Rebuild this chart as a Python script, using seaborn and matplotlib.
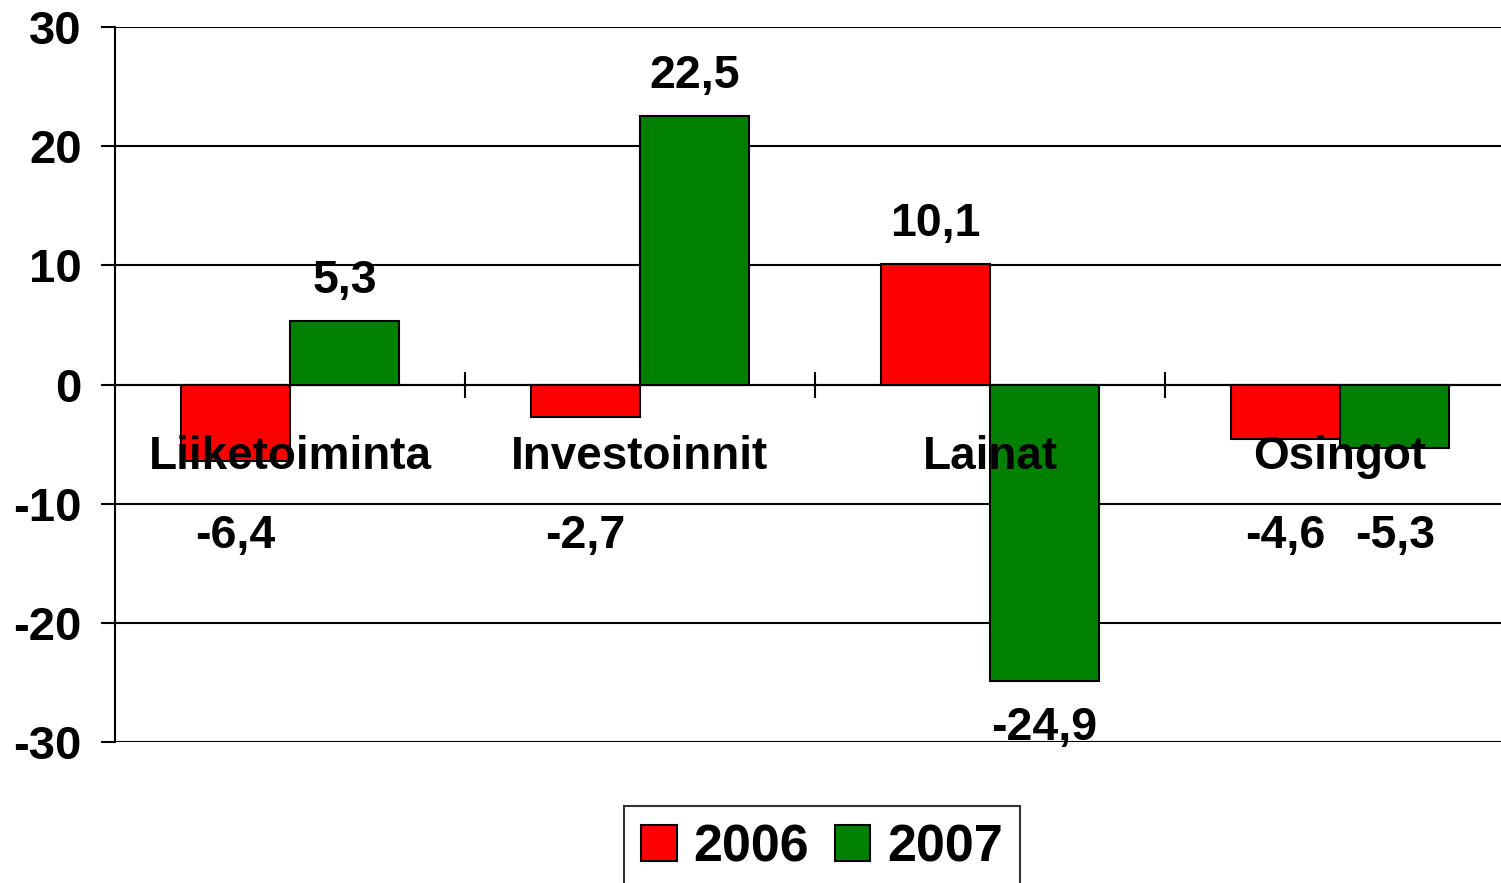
import pandas as pd
import matplotlib.pyplot as plt
import seaborn as sns

# Data
categories = ["Liiketoiminta", "Investoinnit", "Lainat", "Osingot"]
years = ["2006", "2007"]
values_2006 = [-6.4, -2.7, 10.1, -4.6]
values_2007 = [5.3, 22.5, -24.9, -5.3]
y_ticks = [-30, -20, -10, 0, 10, 20, 30]

df = pd.DataFrame({
    "kategoria": categories * 2,
    "vuosi": [years[0]] * 4 + [years[1]] * 4,
    "arvo": values_2006 + values_2007,
})

sns.set_style("white")
plt.rcParams["font.family"] = ["Liberation Sans", "DejaVu Sans"]
plt.rcParams["font.weight"] = "bold"
plt.rcParams["text.color"] = "black"
plt.rcParams["xtick.color"] = "black"
plt.rcParams["ytick.color"] = "black"

fig = plt.figure(figsize=(15.01, 8.83), dpi=100)
# plot area runs a little past the right edge, like in the original
ax = fig.add_axes([0.0766, 0.1597, 0.9327, 0.8097])

sns.barplot(data=df, x="kategoria", y="arvo", hue="vuosi", order=categories,
            hue_order=years, palette=["#FF0000", "#008000"], width=0.625,
            edgecolor="black", linewidth=1.5, saturation=1, ax=ax, zorder=2)

ax.set_axisbelow(False)
ax.set_ylim(-30, 30)
ax.set_xlim(-0.5, len(categories) - 0.5)
ax.set_yticks(y_ticks)
ax.set_yticklabels([str(t) for t in y_ticks])

# gridlines behind the bars
ax.hlines(y_ticks, -0.5, len(categories) - 0.5, colors="black", linewidth=1.5, zorder=0)

for side in ["top", "right"]:
    ax.spines[side].set_visible(False)
ax.spines["left"].set_linewidth(1.5)
ax.spines["left"].set_color("black")
ax.spines["left"].set_zorder(0)
ax.spines["bottom"].set_position(("data", 0))
ax.spines["bottom"].set_linewidth(1.5)
ax.spines["bottom"].set_color("black")
ax.spines["bottom"].set_zorder(0)

ax.tick_params(axis="y", direction="out", length=10, width=1.5, color="black",
               labelsize=34, pad=14, left=True, labelcolor="black")
ax.tick_params(axis="x", which="major", length=0, labelsize=33, pad=36,
               labelcolor="black")
ax.set_xticks([i + 0.5 for i in range(len(categories) - 1)], minor=True)
ax.tick_params(axis="x", which="minor", direction="inout", length=19, width=1.5,
               color="black", bottom=True)
for lbl in ax.get_xticklabels() + ax.get_yticklabels():
    lbl.set_fontweight("bold")

ax.set_xlabel("")
ax.set_ylabel("")

# value labels
for container in ax.containers:
    for bar in container:
        v = bar.get_height()
        x = bar.get_x() + bar.get_width() / 2
        txt = f"{v:.1f}".replace(".", ",")
        if v >= 0:
            ax.annotate(txt, (x, v), xytext=(0, 29), textcoords="offset points",
                        ha="center", va="center", fontsize=33.5, fontweight="bold",
                        color="black", zorder=5)
        else:
            y = max(min(v, -6.4) - 6.3, -28.8)
            ax.text(x, y, txt, ha="center", va="center", fontsize=33.5,
                    fontweight="bold", color="black", zorder=5)

leg = ax.legend(loc="upper center", bbox_to_anchor=(0.5476, 0.0872),
                bbox_transform=fig.transFigure, ncol=2, frameon=True,
                fancybox=False, edgecolor="black", fontsize=37.5,
                handlelength=0.68, handleheight=0.68, handletextpad=0.32,
                columnspacing=0.5, borderpad=0.33, borderaxespad=0, title=None)
leg.get_frame().set_linewidth(1.5)
for t in leg.get_texts():
    t.set_fontweight("bold")
    t.set_color("black")

fig.savefig("out.png", dpi=100)
